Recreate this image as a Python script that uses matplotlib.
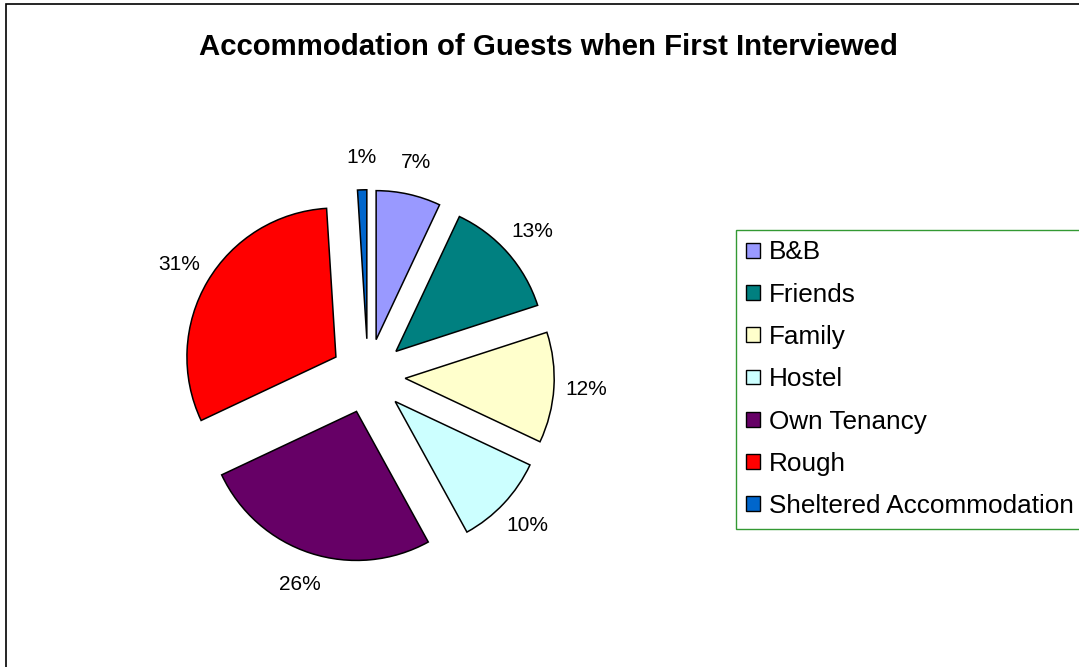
import matplotlib.pyplot as plt
from matplotlib.patches import Rectangle

plt.rcParams['font.family'] = ['Liberation Sans', 'DejaVu Sans']

# chart data
categories = ['B&B', 'Friends', 'Family', 'Hostel', 'Own Tenancy', 'Rough',
              'Sheltered Accommodation']
shares = [7, 13, 12, 10, 26, 31, 1]
colors = ['#9999FF', '#008080', '#FFFFCC', '#CCFFFF', '#660066', '#FF0000',
          '#0066CC']

W, H = 1079, 667
fig = plt.figure(figsize=(W / 100, H / 100), dpi=100)

# pie axes: centre at (368, 376) px from top-left, radius 149 px
r_px = 149
half = 250
ax = fig.add_axes([(368 - half) / W, (H - 376 - half) / H, 2 * half / W, 2 * half / H])

wedges, texts, autotexts = ax.pie(
    shares, colors=colors, startangle=90, counterclock=False,
    explode=[0.25] * len(shares), radius=1,
    autopct='%1.0f%%', pctdistance=1.22,
    wedgeprops=dict(edgecolor='black', linewidth=1.1),
    textprops=dict(fontsize=15, color='black'))

# pie() resets the limits, so set them afterwards
lim = half / r_px
ax.set_xlim(-lim, lim)
ax.set_ylim(-lim, lim)
ax.set_aspect('equal')
ax.axis('off')

fig.text(548 / W, 1 - 47 / H, 'Accommodation of Guests when First Interviewed',
         ha='center', va='center', fontsize=21.2, fontweight='bold')

leg = fig.legend(wedges, categories, loc='upper left',
                 bbox_to_anchor=(736 / W, 1 - 230 / H), bbox_transform=fig.transFigure,
                 fontsize=18.8, frameon=True, fancybox=False, borderaxespad=0,
                 handlelength=0.5, handleheight=0.5, handletextpad=0.35,
                 borderpad=0.4, labelspacing=0.7)
leg.get_frame().set_edgecolor('#008000')
leg.get_frame().set_linewidth(1.0)
for h in leg.legend_handles:
    h.set_edgecolor('black')
    h.set_linewidth(1.0)

# outer chart border (partly cropped)
fig.patches.append(Rectangle((6 / W, -0.1), 1.2, 1.1 - 4 / H, transform=fig.transFigure,
                             fill=False, edgecolor='black', linewidth=1.2))

fig.savefig('out.png', dpi=100)
